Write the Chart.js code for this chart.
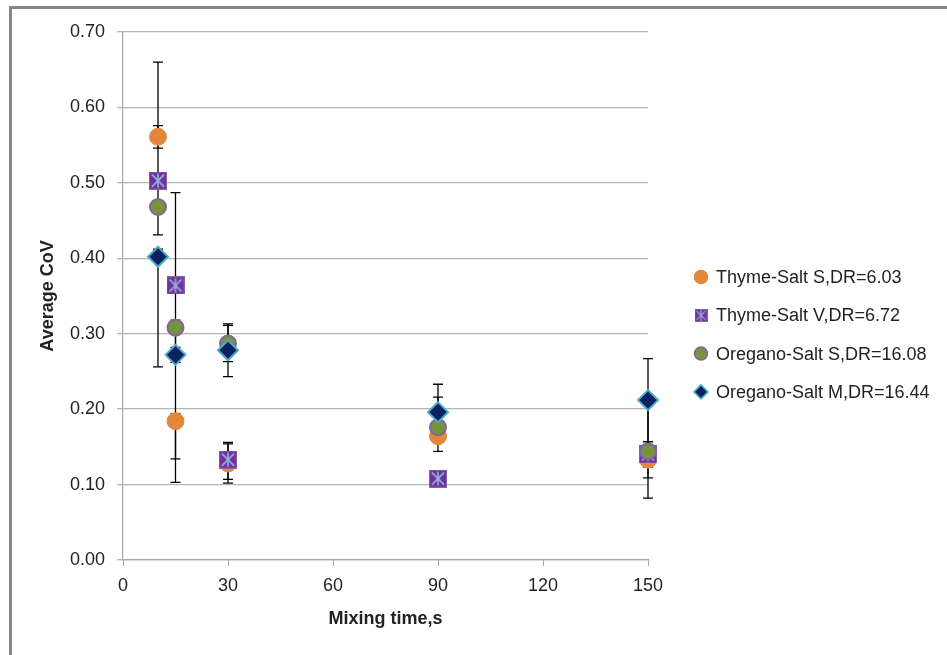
<!DOCTYPE html>
<html>
<head>
<meta charset="utf-8">
<script src="https://cdn.jsdelivr.net/npm/chart.js@4"></script>
<style>
  html, body { margin: 0; padding: 0; background: #fff; }
  #frame {
    position: absolute; left: 9px; top: 6px; width: 938px; height: 649px;
    border-top: 3px solid #868686; border-left: 3px solid #868686;
  }
  #wrap { position: absolute; left: 0; top: 0; width: 947px; height: 655px; }
</style>
</head>
<body>
<div id="frame"></div>
<div id="wrap"><canvas id="chart" width="947" height="655"></canvas></div>
<script>
// mixing times (s)
const mixTimes = [10, 15, 30, 90, 150];

const seriesLabels = [
  'Thyme-Salt S,DR=6.03',
  'Thyme-Salt V,DR=6.72',
  'Oregano-Salt S,DR=16.08',
  'Oregano-Salt M,DR=16.44'
];

// average CoV per series
const thymeS = [0.561, 0.184, 0.128, 0.164, 0.133];
const thymeV = [0.503, 0.364, 0.133, 0.108, 0.140];
const oreganoS = [0.468, 0.308, 0.287, 0.176, 0.144];
const oreganoM = [0.402, 0.272, 0.278, 0.196, 0.212];

// error bars (upper / lower)
const thymeSUp = [0.015, 0.010, 0.026, 0.020, 0.024];
const thymeSDown = [0.015, 0.081, 0.026, 0.020, 0.024];
const thymeVUp = [0.010, 0.123, 0.023, 0.010, 0.017];
const thymeVDown = [0.010, 0.230, 0.026, 0.010, 0.017];
const oreganoSUp = [0.192, 0.010, 0.024, 0.040, 0.062];
const oreganoSDown = [0.037, 0.030, 0.024, 0.010, 0.062];
const oreganoMUp = [0.010, 0.010, 0.035, 0.037, 0.055];
const oreganoMDown = [0.146, 0.010, 0.035, 0.037, 0.055];

const yTicks = [0, 0.1, 0.2, 0.3, 0.4, 0.5, 0.6, 0.7];
const xTicks = [0, 30, 60, 90, 120, 150];

const textColor = '#222';
const fontFamily = '"Liberation Sans", Arial, sans-serif';

function toPoints(values) {
  return mixTimes.map((t, i) => ({ x: t, y: values[i] }));
}

// purple square with a light blue star, like the excel marker
function starSquare(size) {
  const c = document.createElement('canvas');
  c.width = size;
  c.height = size;
  const g = c.getContext('2d');
  g.fillStyle = '#7030A0';
  g.fillRect(0, 0, size, size);
  g.strokeStyle = '#8064A2';
  g.lineWidth = 1;
  g.strokeRect(0.5, 0.5, size - 1, size - 1);
  g.strokeStyle = '#95B3D7';
  g.lineWidth = size > 14 ? 1.6 : 1.2;
  const p = size * 0.16;
  g.beginPath();
  g.moveTo(p, p); g.lineTo(size - p, size - p);
  g.moveTo(size - p, p); g.lineTo(p, size - p);
  g.moveTo(size / 2, p - 1); g.lineTo(size / 2, size - p + 1);
  g.stroke();
  return c;
}

const squareBig = starSquare(18);
const squareSmall = starSquare(13);

const datasets = [
  {
    label: seriesLabels[0],
    data: toPoints(thymeS),
    errUp: thymeSUp, errDown: thymeSDown,
    pointStyle: 'circle', pointRadius: 8.5,
    backgroundColor: '#E2873C', borderColor: '#E2873C', borderWidth: 1,
    clip: false,
    order: 4
  },
  {
    label: seriesLabels[1],
    data: toPoints(thymeV),
    errUp: thymeVUp, errDown: thymeVDown,
    pointStyle: squareBig, legendStyle: squareSmall, pointRadius: 9,
    backgroundColor: '#7030A0', borderColor: '#7030A0', borderWidth: 0,
    clip: false,
    order: 3
  },
  {
    label: seriesLabels[2],
    data: toPoints(oreganoS),
    errUp: oreganoSUp, errDown: oreganoSDown,
    pointStyle: 'circle', pointRadius: 8,
    backgroundColor: '#77933C', borderColor: '#8064A2', borderWidth: 2,
    clip: false,
    order: 2
  },
  {
    label: seriesLabels[3],
    data: toPoints(oreganoM),
    errUp: oreganoMUp, errDown: oreganoMDown,
    pointStyle: 'rectRot', pointRadius: 10,
    backgroundColor: '#0B2160', borderColor: '#4BACC6', borderWidth: 2,
    clip: false,
    order: 1
  }
];

const errorBars = {
  id: 'errorBars',
  beforeDatasetsDraw(chart) {
    const { ctx, scales } = chart;
    ctx.save();
    ctx.strokeStyle = '#000';
    ctx.lineWidth = 1.3;
    chart.data.datasets.forEach(ds => {
      ds.data.forEach((p, i) => {
        const x = scales.x.getPixelForValue(p.x);
        const yTop = scales.y.getPixelForValue(p.y + ds.errUp[i]);
        const yBot = scales.y.getPixelForValue(p.y - ds.errDown[i]);
        ctx.beginPath();
        ctx.moveTo(x, yTop); ctx.lineTo(x, yBot);
        ctx.moveTo(x - 5, yTop); ctx.lineTo(x + 5, yTop);
        ctx.moveTo(x - 5, yBot); ctx.lineTo(x + 5, yBot);
        ctx.stroke();
      });
    });
    ctx.restore();
  }
};

// legend on the right, drawn by hand so it sits where excel puts it
const sideLegend = {
  id: 'sideLegend',
  afterDraw(chart) {
    const { ctx, chartArea } = chart;
    const x0 = chartArea.right + 53;
    const y0 = 277;
    const gap = 38.3;
    ctx.save();
    ctx.font = '18px ' + fontFamily;
    ctx.textBaseline = 'middle';
    chart.data.datasets.forEach((ds, i) => {
      const y = y0 + i * gap;
      ctx.fillStyle = ds.backgroundColor;
      ctx.strokeStyle = ds.borderColor;
      ctx.lineWidth = ds.borderWidth ? 1.5 : 0;
      const style = ds.legendStyle || ds.pointStyle;
      const r = ds.pointStyle === 'rectRot' ? 7 : 6.5;
      Chart.helpers.drawPoint(ctx, { pointStyle: style, radius: r, rotation: 0, borderWidth: ctx.lineWidth }, x0, y);
      ctx.fillStyle = textColor;
      ctx.fillText(ds.label, x0 + 15, y + 1);
    });
    ctx.restore();
  }
};

new Chart(document.getElementById('chart'), {
  type: 'scatter',
  data: { datasets },
  options: {
    responsive: false,
    animation: false,
    layout: { padding: { left: 0, top: 32, right: 299, bottom: 0 } },
    plugins: {
      legend: { display: false },
      tooltip: { enabled: false }
    },
    scales: {
      x: {
        type: 'linear',
        min: 0,
        max: 150,
        afterBuildTicks: scale => { scale.ticks = xTicks.map(v => ({ value: v })); },
        afterFit: scale => { scale.height = 95; },
        grid: { drawOnChartArea: false, color: '#A6A6A6', tickLength: 6 },
        border: { color: '#A6A6A6', width: 1.2 },
        ticks: { color: textColor, font: { family: fontFamily, size: 18 }, padding: 9 },
        title: {
          display: true,
          text: 'Mixing time,s',
          color: textColor,
          font: { family: fontFamily, size: 18, weight: 'bold' },
          padding: { top: 0, bottom: 25 }
        }
      },
      y: {
        type: 'linear',
        min: 0,
        max: 0.7,
        afterBuildTicks: scale => { scale.ticks = yTicks.map(v => ({ value: v })); },
        afterFit: scale => { scale.width = 123; },
        grid: { color: '#B4B4B4', lineWidth: 1.3, tickLength: 6 },
        border: { color: '#A6A6A6', width: 1.2 },
        ticks: {
          color: textColor,
          font: { family: fontFamily, size: 18 },
          padding: 12,
          callback: v => Number(v).toFixed(2)
        },
        title: {
          display: true,
          text: 'Average CoV',
          color: textColor,
          font: { family: fontFamily, size: 18, weight: 'bold' },
          padding: { top: 37, bottom: 0 }
        }
      }
    }
  },
  plugins: [errorBars, sideLegend]
});
</script>
</body>
</html>
